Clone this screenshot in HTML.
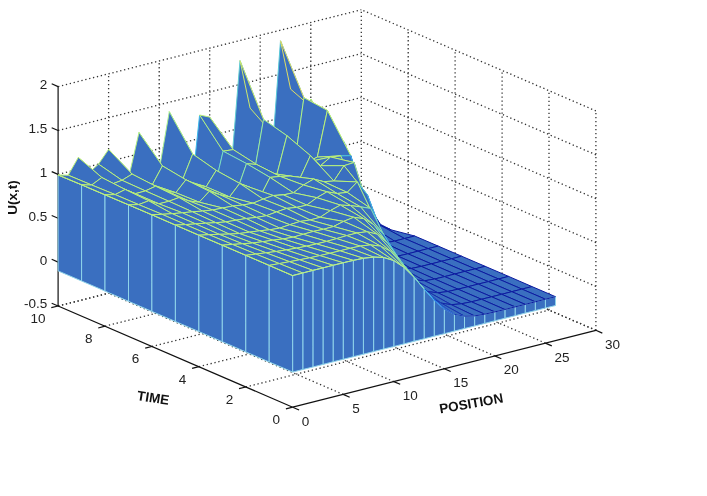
<!DOCTYPE html>
<html><head><meta charset="utf-8"><style>
html,body{margin:0;padding:0;background:#fff;}
svg{display:block;filter:blur(0.35px)}
.g{stroke:#333;stroke-width:1.3;stroke-dasharray:1.3 2.7;fill:none}
.ax line{stroke:#111;stroke-width:1.2}
.surf polygon,.surf line{stroke-width:1;stroke-linejoin:round}
.lab text{font-family:"Liberation Sans",sans-serif;font-size:13.5px;fill:#222}
.big{font-family:"Liberation Sans",sans-serif;font-size:13.5px;font-weight:bold;fill:#111}
</style></head><body>
<svg width="707" height="496" viewBox="0 0 707 496">
<rect width="707" height="496" fill="#fff"/>
<g><line x1="343.2" y1="394.4" x2="108.6" y2="293.2" class="g"/><line x1="393.8" y1="381.6" x2="159.2" y2="280.4" class="g"/><line x1="444.3" y1="368.8" x2="209.7" y2="267.6" class="g"/><line x1="494.8" y1="355.9" x2="260.2" y2="254.7" class="g"/><line x1="545.4" y1="343.1" x2="310.8" y2="241.9" class="g"/><line x1="245.8" y1="387.0" x2="549.0" y2="310.1" class="g"/><line x1="198.9" y1="366.7" x2="502.1" y2="289.8" class="g"/><line x1="151.9" y1="346.5" x2="455.1" y2="269.6" class="g"/><line x1="105.0" y1="326.2" x2="408.2" y2="249.4" class="g"/><line x1="58.1" y1="306.0" x2="361.3" y2="229.1" class="g"/><line x1="595.9" y1="330.3" x2="361.3" y2="229.1" class="g"/><line x1="108.6" y1="293.2" x2="108.6" y2="73.8" class="g"/><line x1="159.2" y1="280.4" x2="159.2" y2="61.0" class="g"/><line x1="209.7" y1="267.6" x2="209.7" y2="48.2" class="g"/><line x1="260.2" y1="254.7" x2="260.2" y2="35.3" class="g"/><line x1="310.8" y1="241.9" x2="310.8" y2="22.5" class="g"/><line x1="361.3" y1="229.1" x2="361.3" y2="9.7" class="g"/><line x1="58.1" y1="306.0" x2="361.3" y2="229.1" class="g"/><line x1="595.9" y1="330.3" x2="361.3" y2="229.1" class="g"/><line x1="58.1" y1="262.1" x2="361.3" y2="185.2" class="g"/><line x1="595.9" y1="286.4" x2="361.3" y2="185.2" class="g"/><line x1="58.1" y1="218.2" x2="361.3" y2="141.4" class="g"/><line x1="595.9" y1="242.6" x2="361.3" y2="141.4" class="g"/><line x1="58.1" y1="174.4" x2="361.3" y2="97.5" class="g"/><line x1="595.9" y1="198.7" x2="361.3" y2="97.5" class="g"/><line x1="58.1" y1="130.5" x2="361.3" y2="53.6" class="g"/><line x1="595.9" y1="154.8" x2="361.3" y2="53.6" class="g"/><line x1="58.1" y1="86.6" x2="361.3" y2="9.7" class="g"/><line x1="595.9" y1="110.9" x2="361.3" y2="9.7" class="g"/><line x1="595.9" y1="330.3" x2="595.9" y2="110.9" class="g"/><line x1="549.0" y1="310.1" x2="549.0" y2="90.7" class="g"/><line x1="502.1" y1="289.8" x2="502.1" y2="70.4" class="g"/><line x1="455.1" y1="269.6" x2="455.1" y2="50.2" class="g"/><line x1="408.2" y1="249.4" x2="408.2" y2="30.0" class="g"/></g>
<g class="ax"><line x1="292.7" y1="407.2" x2="595.9" y2="330.3"/><line x1="292.7" y1="407.2" x2="58.1" y2="306.0"/><line x1="58.1" y1="306.0" x2="58.1" y2="86.6"/><line x1="292.7" y1="407.2" x2="299.1" y2="410.0"/><line x1="343.2" y1="394.4" x2="349.7" y2="397.2"/><line x1="393.8" y1="381.6" x2="400.2" y2="384.3"/><line x1="444.3" y1="368.8" x2="450.7" y2="371.5"/><line x1="494.8" y1="355.9" x2="501.3" y2="358.7"/><line x1="545.4" y1="343.1" x2="551.8" y2="345.9"/><line x1="595.9" y1="330.3" x2="602.3" y2="333.1"/><line x1="292.7" y1="407.2" x2="285.9" y2="408.9"/><line x1="245.8" y1="387.0" x2="239.0" y2="388.7"/><line x1="198.9" y1="366.7" x2="192.1" y2="368.4"/><line x1="151.9" y1="346.5" x2="145.2" y2="348.2"/><line x1="105.0" y1="326.2" x2="98.2" y2="328.0"/><line x1="58.1" y1="306.0" x2="51.3" y2="307.7"/><line x1="58.1" y1="306.0" x2="51.7" y2="303.2"/><line x1="58.1" y1="262.1" x2="51.7" y2="259.3"/><line x1="58.1" y1="218.2" x2="51.7" y2="215.5"/><line x1="58.1" y1="174.4" x2="51.7" y2="171.6"/><line x1="58.1" y1="130.5" x2="51.7" y2="127.7"/><line x1="58.1" y1="86.6" x2="51.7" y2="83.8"/></g>
<g class="surf"><polygon points="334.2,138.0 344.3,142.0 320.9,127.3 310.8,99.0" fill="#3a6fc0" stroke="#b3ef80"/><polygon points="324.1,136.4 334.2,138.0 310.8,99.0 300.7,117.2" fill="#3a6fc0" stroke="#b6f07d"/><polygon points="357.7,188.9 367.8,217.9 344.3,142.0 334.2,138.0" fill="#3a6fc0" stroke="#2c89e9"/><polygon points="314.0,109.4 324.1,136.4 300.7,117.2 290.6,89.1" fill="#3a6fc0" stroke="#c8ec6d"/><polygon points="347.6,172.4 357.7,188.9 334.2,138.0 324.1,136.4" fill="#3a6fc0" stroke="#51c5dd"/><polygon points="283.7,152.5 293.8,168.6 270.3,177.3 260.2,140.7" fill="#3a6fc0" stroke="#aeee87"/><polygon points="381.2,225.8 391.3,229.9 367.8,217.9 357.7,188.9" fill="#3a6fc0" stroke="#1022a4"/><polygon points="293.8,168.6 303.9,97.7 280.5,40.8 270.3,177.3" fill="#3a6fc0" stroke="#58c9d8"/><polygon points="303.9,97.7 314.0,109.4 290.6,89.1 280.5,40.8" fill="#3a6fc0" stroke="#e0dd63"/><polygon points="337.5,141.4 347.6,172.4 324.1,136.4 314.0,109.4" fill="#3a6fc0" stroke="#baf079"/><polygon points="371.0,226.3 381.2,225.8 357.7,188.9 347.6,172.4" fill="#3a6fc0" stroke="#1429a8"/><polygon points="273.6,134.8 283.7,152.5 260.2,140.7 250.1,108.1" fill="#3a6fc0" stroke="#bdf076"/><polygon points="243.3,164.3 253.4,177.5 229.9,184.2 219.8,150.9" fill="#3a6fc0" stroke="#a8ed8f"/><polygon points="404.6,238.5 414.7,236.0 391.3,229.9 381.2,225.8" fill="#3a6fc0" stroke="#0c1aa0"/><polygon points="360.9,197.4 371.0,226.3 347.6,172.4 337.5,141.4" fill="#3a6fc0" stroke="#319fec"/><polygon points="327.4,110.4 337.5,141.4 314.0,109.4 303.9,97.7" fill="#3a6fc0" stroke="#dcdf65"/><polygon points="307.2,162.1 317.3,157.1 293.8,168.6 283.7,152.5" fill="#3a6fc0" stroke="#afef85"/><polygon points="253.4,177.5 263.5,119.4 240.0,60.6 229.9,184.2" fill="#3a6fc0" stroke="#60ced2"/><polygon points="317.3,157.1 327.4,110.4 303.9,97.7 293.8,168.6" fill="#3a6fc0" stroke="#b4f07f"/><polygon points="263.5,119.4 273.6,134.8 250.1,108.1 240.0,60.6" fill="#3a6fc0" stroke="#cde96b"/><polygon points="394.5,241.1 404.6,238.5 381.2,225.8 371.0,226.3" fill="#3a6fc0" stroke="#0c1aa0"/><polygon points="297.1,152.7 307.2,162.1 283.7,152.5 273.6,134.8" fill="#3a6fc0" stroke="#b9f07a"/><polygon points="233.2,149.6 243.3,164.3 219.8,150.9 209.7,117.1" fill="#3a6fc0" stroke="#bbf078"/><polygon points="384.4,242.9 394.5,241.1 371.0,226.3 360.9,197.4" fill="#3a6fc0" stroke="#0d1ca1"/><polygon points="350.8,155.7 360.9,197.4 337.5,141.4 327.4,110.4" fill="#3a6fc0" stroke="#b9f07a"/><polygon points="213.0,194.3 223.1,151.2 199.6,115.0 189.5,210.5" fill="#3a6fc0" stroke="#3cbaec"/><polygon points="286.9,135.7 297.1,152.7 273.6,134.8 263.5,119.4" fill="#3a6fc0" stroke="#c3f070"/><polygon points="202.8,169.0 213.0,194.3 189.5,210.5 179.4,148.0" fill="#3a6fc0" stroke="#b5f07e"/><polygon points="223.1,151.2 233.2,149.6 209.7,117.1 199.6,115.0" fill="#3a6fc0" stroke="#bbf078"/><polygon points="428.1,248.6 438.2,246.1 414.7,236.0 404.6,238.5" fill="#3a6fc0" stroke="#0c1aa0"/><polygon points="276.8,174.7 286.9,135.7 263.5,119.4 253.4,177.5" fill="#3a6fc0" stroke="#9feb9b"/><polygon points="266.7,172.6 276.8,174.7 253.4,177.5 243.3,164.3" fill="#3a6fc0" stroke="#afee86"/><polygon points="340.7,155.9 350.8,155.7 327.4,110.4 317.3,157.1" fill="#3a6fc0" stroke="#baf079"/><polygon points="374.3,235.0 384.4,242.9 360.9,197.4 350.8,155.7" fill="#3a6fc0" stroke="#1a43bb"/><polygon points="330.6,157.0 340.7,155.9 317.3,157.1 307.2,162.1" fill="#3a6fc0" stroke="#bbf078"/><polygon points="418.0,251.2 428.1,248.6 404.6,238.5 394.5,241.1" fill="#3a6fc0" stroke="#0c1aa0"/><polygon points="256.6,164.5 266.7,172.6 243.3,164.3 233.2,149.6" fill="#3a6fc0" stroke="#b8f07b"/><polygon points="320.5,165.7 330.6,157.0 307.2,162.1 297.1,152.7" fill="#3a6fc0" stroke="#b8f07b"/><polygon points="407.9,253.8 418.0,251.2 394.5,241.1 384.4,242.9" fill="#3a6fc0" stroke="#0c1aa0"/><polygon points="192.7,154.0 202.8,169.0 179.4,148.0 169.3,111.7" fill="#3a6fc0" stroke="#bef075"/><polygon points="364.2,204.8 374.3,235.0 350.8,155.7 340.7,155.9" fill="#3a6fc0" stroke="#38b8ef"/><polygon points="246.5,163.6 256.6,164.5 233.2,149.6 223.1,151.2" fill="#3a6fc0" stroke="#baf079"/><polygon points="397.8,256.1 407.9,253.8 384.4,242.9 374.3,235.0" fill="#3a6fc0" stroke="#0c1aa0"/><polygon points="310.4,155.6 320.5,165.7 297.1,152.7 286.9,135.7" fill="#3a6fc0" stroke="#bef075"/><polygon points="182.6,179.7 192.7,154.0 169.3,111.7 159.2,170.0" fill="#3a6fc0" stroke="#a8ed8f"/><polygon points="236.4,192.7 246.5,163.6 223.1,151.2 213.0,194.3" fill="#3a6fc0" stroke="#7dddbd"/><polygon points="172.5,175.1 182.6,179.7 159.2,170.0 149.1,155.7" fill="#3a6fc0" stroke="#b6f07d"/><polygon points="451.5,258.8 461.6,256.2 438.2,246.1 428.1,248.6" fill="#3a6fc0" stroke="#0c1aa0"/><polygon points="300.3,177.6 310.4,155.6 286.9,135.7 276.8,174.7" fill="#3a6fc0" stroke="#b4f07f"/><polygon points="226.3,179.1 236.4,192.7 213.0,194.3 202.8,169.0" fill="#3a6fc0" stroke="#b5f07e"/><polygon points="290.2,176.1 300.3,177.6 276.8,174.7 266.7,172.6" fill="#3a6fc0" stroke="#b6f07d"/><polygon points="354.1,162.5 364.2,204.8 340.7,155.9 330.6,157.0" fill="#3a6fc0" stroke="#bdf076"/><polygon points="387.6,254.8 397.8,256.1 374.3,235.0 364.2,204.8" fill="#3a6fc0" stroke="#1326a7"/><polygon points="441.4,261.3 451.5,258.8 428.1,248.6 418.0,251.2" fill="#3a6fc0" stroke="#0c1aa0"/><polygon points="162.4,165.9 172.5,175.1 149.1,155.7 139.0,132.5" fill="#3a6fc0" stroke="#bcf077"/><polygon points="280.1,176.4 290.2,176.1 266.7,172.6 256.6,164.5" fill="#3a6fc0" stroke="#b7f07c"/><polygon points="431.3,263.9 441.4,261.3 418.0,251.2 407.9,253.8" fill="#3a6fc0" stroke="#0c1aa0"/><polygon points="216.2,170.4 226.3,179.1 202.8,169.0 192.7,154.0" fill="#3a6fc0" stroke="#bbf078"/><polygon points="344.0,165.7 354.1,162.5 330.6,157.0 320.5,165.7" fill="#3a6fc0" stroke="#bdf076"/><polygon points="152.3,184.7 162.4,165.9 139.0,132.5 128.8,177.0" fill="#3a6fc0" stroke="#b1ef82"/><polygon points="142.2,181.3 152.3,184.7 128.8,177.0 118.7,167.8" fill="#3a6fc0" stroke="#b6f07d"/><polygon points="206.1,186.8 216.2,170.4 192.7,154.0 182.6,179.7" fill="#3a6fc0" stroke="#b2ef81"/><polygon points="377.5,236.5 387.6,254.8 364.2,204.8 354.1,162.5" fill="#3a6fc0" stroke="#287ae4"/><polygon points="270.0,177.4 280.1,176.4 256.6,164.5 246.5,163.6" fill="#3a6fc0" stroke="#b8f07b"/><polygon points="421.2,266.4 431.3,263.9 407.9,253.8 397.8,256.1" fill="#3a6fc0" stroke="#0c1aa0"/><polygon points="333.9,181.0 344.0,165.7 320.5,165.7 310.4,155.6" fill="#3a6fc0" stroke="#b6f07d"/><polygon points="259.9,197.2 270.0,177.4 246.5,163.6 236.4,192.7" fill="#3a6fc0" stroke="#97e9a5"/><polygon points="196.0,184.5 206.1,186.8 182.6,179.7 172.5,175.1" fill="#3a6fc0" stroke="#b6f07d"/><polygon points="323.8,181.7 333.9,181.0 310.4,155.6 300.3,177.6" fill="#3a6fc0" stroke="#b7f07c"/><polygon points="475.0,268.9 485.1,266.3 461.6,256.2 451.5,258.8" fill="#3a6fc0" stroke="#0c1aa0"/><polygon points="411.1,268.5 421.2,266.4 397.8,256.1 387.6,254.8" fill="#3a6fc0" stroke="#0c1ba0"/><polygon points="249.8,187.3 259.9,197.2 236.4,192.7 226.3,179.1" fill="#3a6fc0" stroke="#b6f07d"/><polygon points="132.1,174.1 142.2,181.3 118.7,167.8 108.6,149.4" fill="#3a6fc0" stroke="#bbf078"/><polygon points="313.7,179.0 323.8,181.7 300.3,177.6 290.2,176.1" fill="#3a6fc0" stroke="#baf079"/><polygon points="464.9,271.4 475.0,268.9 451.5,258.8 441.4,261.3" fill="#3a6fc0" stroke="#0c1aa0"/><polygon points="185.9,179.8 196.0,184.5 172.5,175.1 162.4,165.9" fill="#3a6fc0" stroke="#baf079"/><polygon points="367.4,194.8 377.5,236.5 354.1,162.5 344.0,165.7" fill="#3a6fc0" stroke="#b0ef84"/><polygon points="401.0,267.6 411.1,268.5 387.6,254.8 377.5,236.5" fill="#3a6fc0" stroke="#1326a7"/><polygon points="122.0,180.3 132.1,174.1 108.6,149.4 98.5,164.1" fill="#3a6fc0" stroke="#b9f07a"/><polygon points="303.5,185.0 313.7,179.0 290.2,176.1 280.1,176.4" fill="#3a6fc0" stroke="#b8f07b"/><polygon points="239.7,183.4 249.8,187.3 226.3,179.1 216.2,170.4" fill="#3a6fc0" stroke="#b9f07a"/><polygon points="454.8,274.0 464.9,271.4 441.4,261.3 431.3,263.9" fill="#3a6fc0" stroke="#0c1aa0"/><polygon points="175.8,192.7 185.9,179.8 162.4,165.9 152.3,184.7" fill="#3a6fc0" stroke="#b4f07f"/><polygon points="111.9,184.1 122.0,180.3 98.5,164.1 88.4,173.3" fill="#3a6fc0" stroke="#b9f07a"/><polygon points="165.7,190.6 175.8,192.7 152.3,184.7 142.2,181.3" fill="#3a6fc0" stroke="#b7f07c"/><polygon points="229.5,196.9 239.7,183.4 216.2,170.4 206.1,186.8" fill="#3a6fc0" stroke="#b3ef81"/><polygon points="293.4,192.8 303.5,185.0 280.1,176.4 270.0,177.4" fill="#3a6fc0" stroke="#b5f07e"/><polygon points="357.3,181.9 367.4,194.8 344.0,165.7 333.9,181.0" fill="#3a6fc0" stroke="#bbf078"/><polygon points="444.7,276.6 454.8,274.0 431.3,263.9 421.2,266.4" fill="#3a6fc0" stroke="#0c1aa0"/><polygon points="390.9,256.9 401.0,267.6 377.5,236.5 367.4,194.8" fill="#3a6fc0" stroke="#205bcd"/><polygon points="101.8,177.5 111.9,184.1 88.4,173.3 78.3,157.4" fill="#3a6fc0" stroke="#bef075"/><polygon points="283.3,194.9 293.4,192.8 270.0,177.4 259.9,197.2" fill="#3a6fc0" stroke="#b6f07d"/><polygon points="219.4,194.5 229.5,196.9 206.1,186.8 196.0,184.5" fill="#3a6fc0" stroke="#b6f07d"/><polygon points="347.2,192.4 357.3,181.9 333.9,181.0 323.8,181.7" fill="#3a6fc0" stroke="#b7f07c"/><polygon points="498.5,279.0 508.6,276.4 485.1,266.3 475.0,268.9" fill="#3a6fc0" stroke="#0c1aa0"/><polygon points="434.6,279.0 444.7,276.6 421.2,266.4 411.1,268.5" fill="#3a6fc0" stroke="#0c1aa0"/><polygon points="155.6,186.2 165.7,190.6 142.2,181.3 132.1,174.1" fill="#3a6fc0" stroke="#baf079"/><polygon points="81.6,184.8 58.1,175.0 58.1,270.9 81.6,281.0" fill="#3a6fc0" stroke="#8fd4ea"/><polygon points="273.2,195.5 283.3,194.9 259.9,197.2 249.8,187.3" fill="#3a6fc0" stroke="#b7f07c"/><polygon points="91.7,185.0 101.8,177.5 78.3,157.4 68.2,175.2" fill="#3a6fc0" stroke="#bbf078"/><polygon points="337.1,193.5 347.2,192.4 323.8,181.7 313.7,179.0" fill="#3a6fc0" stroke="#b8f07b"/><polygon points="488.3,281.6 498.5,279.0 475.0,268.9 464.9,271.4" fill="#3a6fc0" stroke="#0c1aa0"/><polygon points="209.3,191.3 219.4,194.5 196.0,184.5 185.9,179.8" fill="#3a6fc0" stroke="#b9f07a"/><polygon points="424.5,280.8 434.6,279.0 411.1,268.5 401.0,267.6" fill="#3a6fc0" stroke="#0d1ca1"/><polygon points="145.4,190.9 155.6,186.2 132.1,174.1 122.0,180.3" fill="#3a6fc0" stroke="#b9f07a"/><polygon points="81.6,184.8 91.7,185.0 68.2,175.2 58.1,175.0" fill="#3a6fc0" stroke="#bcf077"/><polygon points="380.8,231.1 390.9,256.9 367.4,194.8 357.3,181.9" fill="#3a6fc0" stroke="#41bde8"/><polygon points="263.1,199.1 273.2,195.5 249.8,187.3 239.7,183.4" fill="#3a6fc0" stroke="#b6f07d"/><polygon points="199.2,202.2 209.3,191.3 185.9,179.8 175.8,192.7" fill="#3a6fc0" stroke="#b5f07e"/><polygon points="478.2,284.1 488.3,281.6 464.9,271.4 454.8,274.0" fill="#3a6fc0" stroke="#0c1aa0"/><polygon points="327.0,191.8 337.1,193.5 313.7,179.0 303.5,185.0" fill="#3a6fc0" stroke="#baf079"/><polygon points="135.3,193.7 145.4,190.9 122.0,180.3 111.9,184.1" fill="#3a6fc0" stroke="#b9f07a"/><polygon points="414.4,279.8 424.5,280.8 401.0,267.6 390.9,256.9" fill="#3a6fc0" stroke="#1428a8"/><polygon points="253.0,203.2 263.1,199.1 239.7,183.4 229.5,196.9" fill="#3a6fc0" stroke="#b5f07e"/><polygon points="189.1,201.0 199.2,202.2 175.8,192.7 165.7,190.6" fill="#3a6fc0" stroke="#b7f07c"/><polygon points="316.9,197.7 327.0,191.8 303.5,185.0 293.4,192.8" fill="#3a6fc0" stroke="#b8f07b"/><polygon points="468.1,286.7 478.2,284.1 454.8,274.0 444.7,276.6" fill="#3a6fc0" stroke="#0c1aa0"/><polygon points="125.2,189.5 135.3,193.7 111.9,184.1 101.8,177.5" fill="#3a6fc0" stroke="#bdf076"/><polygon points="370.7,208.4 380.8,231.1 357.3,181.9 347.2,192.4" fill="#3a6fc0" stroke="#b4f07f"/><polygon points="242.9,205.0 253.0,203.2 229.5,196.9 219.4,194.5" fill="#3a6fc0" stroke="#b6f07d"/><polygon points="306.8,205.1 316.9,197.7 293.4,192.8 283.3,194.9" fill="#3a6fc0" stroke="#b6f07d"/><polygon points="521.9,289.1 532.0,286.6 508.6,276.4 498.5,279.0" fill="#3a6fc0" stroke="#0c1aa0"/><polygon points="458.0,289.2 468.1,286.7 444.7,276.6 434.6,279.0" fill="#3a6fc0" stroke="#0c1aa0"/><polygon points="404.2,272.2 414.4,279.8 390.9,256.9 380.8,231.1" fill="#3a6fc0" stroke="#1e50c5"/><polygon points="179.0,197.5 189.1,201.0 165.7,190.6 155.6,186.2" fill="#3a6fc0" stroke="#baf079"/><polygon points="105.0,194.8 81.6,184.8 81.6,281.0 105.0,291.1" fill="#3a6fc0" stroke="#8fd4ea"/><polygon points="115.1,194.6 125.2,189.5 101.8,177.5 91.7,185.0" fill="#3a6fc0" stroke="#bbf078"/><polygon points="360.6,206.9 370.7,208.4 347.2,192.4 337.1,193.5" fill="#3a6fc0" stroke="#b6f07d"/><polygon points="296.7,207.4 306.8,205.1 283.3,194.9 273.2,195.5" fill="#3a6fc0" stroke="#b6f07d"/><polygon points="232.8,206.0 242.9,205.0 219.4,194.5 209.3,191.3" fill="#3a6fc0" stroke="#b7f07c"/><polygon points="511.8,291.7 521.9,289.1 498.5,279.0 488.3,281.6" fill="#3a6fc0" stroke="#0c1aa0"/><polygon points="447.9,291.5 458.0,289.2 434.6,279.0 424.5,280.8" fill="#3a6fc0" stroke="#0c1ba0"/><polygon points="168.9,201.3 179.0,197.5 155.6,186.2 145.4,190.9" fill="#3a6fc0" stroke="#b9f07a"/><polygon points="105.0,194.8 115.1,194.6 91.7,185.0 81.6,184.8" fill="#3a6fc0" stroke="#bdf076"/><polygon points="286.6,208.4 296.7,207.4 273.2,195.5 263.1,199.1" fill="#3a6fc0" stroke="#b7f07c"/><polygon points="350.5,205.6 360.6,206.9 337.1,193.5 327.0,191.8" fill="#3a6fc0" stroke="#b8f07b"/><polygon points="222.7,208.0 232.8,206.0 209.3,191.3 199.2,202.2" fill="#3a6fc0" stroke="#b7f07c"/><polygon points="501.7,294.3 511.8,291.7 488.3,281.6 478.2,284.1" fill="#3a6fc0" stroke="#0c1aa0"/><polygon points="394.1,255.8 404.2,272.2 380.8,231.1 370.7,208.4" fill="#3a6fc0" stroke="#2f97eb"/><polygon points="437.8,292.8 447.9,291.5 424.5,280.8 414.4,279.8" fill="#3a6fc0" stroke="#0e1ea2"/><polygon points="158.8,203.8 168.9,201.3 145.4,190.9 135.3,193.7" fill="#3a6fc0" stroke="#b9f07a"/><polygon points="276.5,211.9 286.6,208.4 263.1,199.1 253.0,203.2" fill="#3a6fc0" stroke="#b6f07d"/><polygon points="212.6,210.0 222.7,208.0 199.2,202.2 189.1,201.0" fill="#3a6fc0" stroke="#b7f07c"/><polygon points="491.6,296.8 501.7,294.3 478.2,284.1 468.1,286.7" fill="#3a6fc0" stroke="#0c1aa0"/><polygon points="340.4,205.1 350.5,205.6 327.0,191.8 316.9,197.7" fill="#3a6fc0" stroke="#baf079"/><polygon points="427.7,291.6 437.8,292.8 414.4,279.8 404.2,272.2" fill="#3a6fc0" stroke="#142baa"/><polygon points="148.7,200.8 158.8,203.8 135.3,193.7 125.2,189.5" fill="#3a6fc0" stroke="#bcf077"/><polygon points="266.4,215.7 276.5,211.9 253.0,203.2 242.9,205.0" fill="#3a6fc0" stroke="#b5f07e"/><polygon points="330.3,210.6 340.4,205.1 316.9,197.7 306.8,205.1" fill="#3a6fc0" stroke="#b8f07b"/><polygon points="545.4,299.2 555.5,296.7 532.0,286.6 521.9,289.1" fill="#3a6fc0" stroke="#0c1aa0"/><polygon points="384.0,234.7 394.1,255.8 370.7,208.4 360.6,206.9" fill="#3a6fc0" stroke="#82e0b9"/><polygon points="481.5,299.3 491.6,296.8 468.1,286.7 458.0,289.2" fill="#3a6fc0" stroke="#0c1aa0"/><polygon points="202.5,211.1 212.6,210.0 189.1,201.0 179.0,197.5" fill="#3a6fc0" stroke="#b8f07b"/><polygon points="128.5,204.8 105.0,194.8 105.0,291.1 128.5,301.3" fill="#3a6fc0" stroke="#8fd4ea"/><polygon points="138.6,204.6 148.7,200.8 125.2,189.5 115.1,194.6" fill="#3a6fc0" stroke="#bbf078"/><polygon points="320.1,217.3 330.3,210.6 306.8,205.1 296.7,207.4" fill="#3a6fc0" stroke="#b6f07d"/><polygon points="256.3,217.4 266.4,215.7 242.9,205.0 232.8,206.0" fill="#3a6fc0" stroke="#b6f07d"/><polygon points="417.6,285.5 427.7,291.6 404.2,272.2 394.1,255.8" fill="#3a6fc0" stroke="#1d4ec4"/><polygon points="535.3,301.8 545.4,299.2 521.9,289.1 511.8,291.7" fill="#3a6fc0" stroke="#0c1aa0"/><polygon points="471.4,301.8 481.5,299.3 458.0,289.2 447.9,291.5" fill="#3a6fc0" stroke="#0c1aa0"/><polygon points="192.4,211.8 202.5,211.1 179.0,197.5 168.9,201.3" fill="#3a6fc0" stroke="#b9f07a"/><polygon points="373.9,224.8 384.0,234.7 360.6,206.9 350.5,205.6" fill="#3a6fc0" stroke="#b2ef82"/><polygon points="128.5,204.8 138.6,204.6 115.1,194.6 105.0,194.8" fill="#3a6fc0" stroke="#bdf076"/><polygon points="310.0,220.0 320.1,217.3 296.7,207.4 286.6,208.4" fill="#3a6fc0" stroke="#b6f07d"/><polygon points="246.1,218.5 256.3,217.4 232.8,206.0 222.7,208.0" fill="#3a6fc0" stroke="#b7f07c"/><polygon points="525.2,304.4 535.3,301.8 511.8,291.7 501.7,294.3" fill="#3a6fc0" stroke="#0c1aa0"/><polygon points="461.3,303.8 471.4,301.8 447.9,291.5 437.8,292.8" fill="#3a6fc0" stroke="#0d1ca1"/><polygon points="182.3,212.8 192.4,211.8 168.9,201.3 158.8,203.8" fill="#3a6fc0" stroke="#baf079"/><polygon points="407.5,273.1 417.6,285.5 394.1,255.8 384.0,234.7" fill="#3a6fc0" stroke="#2c88e9"/><polygon points="299.9,221.5 310.0,220.0 286.6,208.4 276.5,211.9" fill="#3a6fc0" stroke="#b6f07d"/><polygon points="363.8,218.7 373.9,224.8 350.5,205.6 340.4,205.1" fill="#3a6fc0" stroke="#b8f07b"/><polygon points="236.0,220.2 246.1,218.5 222.7,208.0 212.6,210.0" fill="#3a6fc0" stroke="#b7f07c"/><polygon points="515.1,306.9 525.2,304.4 501.7,294.3 491.6,296.8" fill="#3a6fc0" stroke="#0c1aa0"/><polygon points="451.2,304.7 461.3,303.8 437.8,292.8 427.7,291.6" fill="#3a6fc0" stroke="#1021a4"/><polygon points="172.2,213.7 182.3,212.8 158.8,203.8 148.7,200.8" fill="#3a6fc0" stroke="#bbf078"/><polygon points="289.8,224.7 299.9,221.5 276.5,211.9 266.4,215.7" fill="#3a6fc0" stroke="#b6f07d"/><polygon points="504.9,309.5 515.1,306.9 491.6,296.8 481.5,299.3" fill="#3a6fc0" stroke="#0c1aa0"/><polygon points="353.7,217.3 363.8,218.7 340.4,205.1 330.3,210.6" fill="#3a6fc0" stroke="#baf079"/><polygon points="225.9,221.9 236.0,220.2 212.6,210.0 202.5,211.1" fill="#3a6fc0" stroke="#b8f07b"/><polygon points="441.1,303.1 451.2,304.7 427.7,291.6 417.6,285.5" fill="#3a6fc0" stroke="#1630ae"/><polygon points="151.9,214.8 128.5,204.8 128.5,301.3 151.9,311.4" fill="#3a6fc0" stroke="#8fd4ea"/><polygon points="162.0,214.3 172.2,213.7 148.7,200.8 138.6,204.6" fill="#3a6fc0" stroke="#bcf077"/><polygon points="545.4,299.2 555.5,296.7 555.5,305.5 545.4,308.0" fill="#3a6fc0" stroke="#8fd4ea"/><polygon points="397.4,256.9 407.5,273.1 384.0,234.7 373.9,224.8" fill="#3a6fc0" stroke="#4dc3e0"/><polygon points="279.7,228.1 289.8,224.7 266.4,215.7 256.3,217.4" fill="#3a6fc0" stroke="#b6f07d"/><polygon points="343.6,221.4 353.7,217.3 330.3,210.6 320.1,217.3" fill="#3a6fc0" stroke="#b9f07a"/><polygon points="494.8,311.9 504.9,309.5 481.5,299.3 471.4,301.8" fill="#3a6fc0" stroke="#0c1aa0"/><polygon points="215.8,222.7 225.9,221.9 202.5,211.1 192.4,211.8" fill="#3a6fc0" stroke="#b8f07b"/><polygon points="151.9,214.8 162.0,214.3 138.6,204.6 128.5,204.8" fill="#3a6fc0" stroke="#bdf076"/><polygon points="535.3,301.8 545.4,299.2 545.4,308.0 535.3,310.6" fill="#3a6fc0" stroke="#8fd4ea"/><polygon points="431.0,297.6 441.1,303.1 417.6,285.5 407.5,273.1" fill="#3a6fc0" stroke="#1e50c5"/><polygon points="269.6,229.8 279.7,228.1 256.3,217.4 246.1,218.5" fill="#3a6fc0" stroke="#b6f07d"/><polygon points="333.5,226.5 343.6,221.4 320.1,217.3 310.0,220.0" fill="#3a6fc0" stroke="#b8f07b"/><polygon points="484.7,314.2 494.8,311.9 471.4,301.8 461.3,303.8" fill="#3a6fc0" stroke="#0c1ba0"/><polygon points="205.7,223.2 215.8,222.7 192.4,211.8 182.3,212.8" fill="#3a6fc0" stroke="#baf079"/><polygon points="387.3,242.7 397.4,256.9 373.9,224.8 363.8,218.7" fill="#3a6fc0" stroke="#a0eb99"/><polygon points="525.2,304.4 535.3,301.8 535.3,310.6 525.2,313.1" fill="#3a6fc0" stroke="#8fd4ea"/><polygon points="323.4,229.3 333.5,226.5 310.0,220.0 299.9,221.5" fill="#3a6fc0" stroke="#b8f07b"/><polygon points="259.5,230.8 269.6,229.8 246.1,218.5 236.0,220.2" fill="#3a6fc0" stroke="#b7f07c"/><polygon points="474.6,315.9 484.7,314.2 461.3,303.8 451.2,304.7" fill="#3a6fc0" stroke="#0e1ea2"/><polygon points="195.6,223.9 205.7,223.2 182.3,212.8 172.2,213.7" fill="#3a6fc0" stroke="#bbf078"/><polygon points="420.8,287.5 431.0,297.6 407.5,273.1 397.4,256.9" fill="#3a6fc0" stroke="#2a82e8"/><polygon points="515.1,306.9 525.2,304.4 525.2,313.1 515.1,315.7" fill="#3a6fc0" stroke="#8fd4ea"/><polygon points="377.2,234.2 387.3,242.7 363.8,218.7 353.7,217.3" fill="#3a6fc0" stroke="#b6f07d"/><polygon points="313.3,231.4 323.4,229.3 299.9,221.5 289.8,224.7" fill="#3a6fc0" stroke="#b8f07b"/><polygon points="249.4,232.2 259.5,230.8 236.0,220.2 225.9,221.9" fill="#3a6fc0" stroke="#b7f07c"/><polygon points="464.5,316.2 474.6,315.9 451.2,304.7 441.1,303.1" fill="#3a6fc0" stroke="#1225a6"/><polygon points="185.5,224.6 195.6,223.9 172.2,213.7 162.0,214.3" fill="#3a6fc0" stroke="#bbf078"/><polygon points="175.4,225.0 151.9,214.8 151.9,311.4 175.4,321.5" fill="#3a6fc0" stroke="#8fd4ea"/><polygon points="504.9,309.5 515.1,306.9 515.1,315.7 504.9,318.3" fill="#3a6fc0" stroke="#8fd4ea"/><polygon points="303.2,234.3 313.3,231.4 289.8,224.7 279.7,228.1" fill="#3a6fc0" stroke="#b8f07b"/><polygon points="367.1,231.7 377.2,234.2 353.7,217.3 343.6,221.4" fill="#3a6fc0" stroke="#b9f07a"/><polygon points="239.3,233.5 249.4,232.2 225.9,221.9 215.8,222.7" fill="#3a6fc0" stroke="#b8f07b"/><polygon points="410.7,274.1 420.8,287.5 397.4,256.9 387.3,242.7" fill="#3a6fc0" stroke="#37b5ef"/><polygon points="454.4,314.3 464.5,316.2 441.1,303.1 431.0,297.6" fill="#3a6fc0" stroke="#1736b2"/><polygon points="175.4,225.0 185.5,224.6 162.0,214.3 151.9,214.8" fill="#3a6fc0" stroke="#bdf076"/><polygon points="494.8,311.9 504.9,309.5 504.9,318.3 494.8,320.8" fill="#3a6fc0" stroke="#8fd4ea"/><polygon points="293.1,237.2 303.2,234.3 279.7,228.1 269.6,229.8" fill="#3a6fc0" stroke="#b7f07c"/><polygon points="357.0,233.0 367.1,231.7 343.6,221.4 333.5,226.5" fill="#3a6fc0" stroke="#baf079"/><polygon points="229.2,234.1 239.3,233.5 215.8,222.7 205.7,223.2" fill="#3a6fc0" stroke="#b9f07a"/><polygon points="484.7,314.2 494.8,311.9 494.8,320.8 484.7,323.4" fill="#3a6fc0" stroke="#8fd4ea"/><polygon points="444.3,309.1 454.4,314.3 431.0,297.6 420.8,287.5" fill="#3a6fc0" stroke="#1f55c9"/><polygon points="283.0,238.9 293.1,237.2 269.6,229.8 259.5,230.8" fill="#3a6fc0" stroke="#b8f07b"/><polygon points="346.8,235.6 357.0,233.0 333.5,226.5 323.4,229.3" fill="#3a6fc0" stroke="#baf079"/><polygon points="400.6,261.0 410.7,274.1 387.3,242.7 377.2,234.2" fill="#3a6fc0" stroke="#8be5b3"/><polygon points="219.1,234.3 229.2,234.1 205.7,223.2 195.6,223.9" fill="#3a6fc0" stroke="#baf079"/><polygon points="474.6,315.9 484.7,314.2 484.7,323.4 474.6,326.0" fill="#3a6fc0" stroke="#8fd4ea"/><polygon points="272.9,240.2 283.0,238.9 259.5,230.8 249.4,232.2" fill="#3a6fc0" stroke="#b9f07a"/><polygon points="336.7,238.6 346.8,235.6 323.4,229.3 313.3,231.4" fill="#3a6fc0" stroke="#b9f07a"/><polygon points="209.0,234.7 219.1,234.3 195.6,223.9 185.5,224.6" fill="#3a6fc0" stroke="#bbf078"/><polygon points="198.9,235.2 175.4,225.0 175.4,321.5 198.9,331.6" fill="#3a6fc0" stroke="#8fd4ea"/><polygon points="434.2,300.4 444.3,309.1 420.8,287.5 410.7,274.1" fill="#3a6fc0" stroke="#2a82e8"/><polygon points="390.5,251.2 400.6,261.0 377.2,234.2 367.1,231.7" fill="#3a6fc0" stroke="#b4f07f"/><polygon points="464.5,316.2 474.6,315.9 474.6,326.0 464.5,328.5" fill="#3a6fc0" stroke="#8fd4ea"/><polygon points="326.6,241.4 336.7,238.6 313.3,231.4 303.2,234.3" fill="#3a6fc0" stroke="#b9f07a"/><polygon points="262.7,241.7 272.9,240.2 249.4,232.2 239.3,233.5" fill="#3a6fc0" stroke="#b9f07a"/><polygon points="198.9,235.2 209.0,234.7 185.5,224.6 175.4,225.0" fill="#3a6fc0" stroke="#bdf076"/><polygon points="454.4,314.3 464.5,316.2 464.5,328.5 454.4,331.1" fill="#3a6fc0" stroke="#8fd4ea"/><polygon points="380.4,246.1 390.5,251.2 367.1,231.7 357.0,233.0" fill="#3a6fc0" stroke="#b8f07b"/><polygon points="316.5,243.9 326.6,241.4 303.2,234.3 293.1,237.2" fill="#3a6fc0" stroke="#b9f07a"/><polygon points="424.1,289.0 434.2,300.4 410.7,274.1 400.6,261.0" fill="#3a6fc0" stroke="#35aeee"/><polygon points="252.6,243.0 262.7,241.7 239.3,233.5 229.2,234.1" fill="#3a6fc0" stroke="#baf079"/><polygon points="444.3,309.1 454.4,314.3 454.4,331.1 444.3,333.7" fill="#3a6fc0" stroke="#8fd4ea"/><polygon points="306.4,246.2 316.5,243.9 293.1,237.2 283.0,238.9" fill="#3a6fc0" stroke="#b9f07a"/><polygon points="370.3,244.9 380.4,246.1 357.0,233.0 346.8,235.6" fill="#3a6fc0" stroke="#baf079"/><polygon points="242.5,243.8 252.6,243.0 229.2,234.1 219.1,234.3" fill="#3a6fc0" stroke="#bbf078"/><polygon points="434.2,300.4 444.3,309.1 444.3,333.7 434.2,336.2" fill="#3a6fc0" stroke="#8fd4ea"/><polygon points="414.0,277.2 424.1,289.0 400.6,261.0 390.5,251.2" fill="#3a6fc0" stroke="#77dac1"/><polygon points="296.3,248.2 306.4,246.2 283.0,238.9 272.9,240.2" fill="#3a6fc0" stroke="#baf079"/><polygon points="360.2,246.1 370.3,244.9 346.8,235.6 336.7,238.6" fill="#3a6fc0" stroke="#bbf078"/><polygon points="232.4,244.4 242.5,243.8 219.1,234.3 209.0,234.7" fill="#3a6fc0" stroke="#bcf077"/><polygon points="222.3,245.2 198.9,235.2 198.9,331.6 222.3,341.7" fill="#3a6fc0" stroke="#8fd4ea"/><polygon points="424.1,289.0 434.2,300.4 434.2,336.2 424.1,338.8" fill="#3a6fc0" stroke="#8fd4ea"/><polygon points="350.1,248.3 360.2,246.1 336.7,238.6 326.6,241.4" fill="#3a6fc0" stroke="#bbf078"/><polygon points="286.2,249.9 296.3,248.2 272.9,240.2 262.7,241.7" fill="#3a6fc0" stroke="#baf079"/><polygon points="403.9,267.3 414.0,277.2 390.5,251.2 380.4,246.1" fill="#3a6fc0" stroke="#acee8a"/><polygon points="222.3,245.2 232.4,244.4 209.0,234.7 198.9,235.2" fill="#3a6fc0" stroke="#bdf076"/><polygon points="414.0,277.2 424.1,289.0 424.1,338.8 414.0,341.3" fill="#3a6fc0" stroke="#8fd4ea"/><polygon points="340.0,250.8 350.1,248.3 326.6,241.4 316.5,243.9" fill="#3a6fc0" stroke="#bbf078"/><polygon points="276.1,251.5 286.2,249.9 262.7,241.7 252.6,243.0" fill="#3a6fc0" stroke="#bbf078"/><polygon points="403.9,267.3 414.0,277.2 414.0,341.3 403.9,343.9" fill="#3a6fc0" stroke="#8fd4ea"/><polygon points="393.8,260.6 403.9,267.3 380.4,246.1 370.3,244.9" fill="#3a6fc0" stroke="#b7f07c"/><polygon points="329.9,253.3 340.0,250.8 316.5,243.9 306.4,246.2" fill="#3a6fc0" stroke="#bbf078"/><polygon points="266.0,252.8 276.1,251.5 252.6,243.0 242.5,243.8" fill="#3a6fc0" stroke="#bbf078"/><polygon points="393.8,260.6 403.9,267.3 403.9,343.9 393.8,346.5" fill="#3a6fc0" stroke="#8fd4ea"/><polygon points="383.7,257.5 393.8,260.6 370.3,244.9 360.2,246.1" fill="#3a6fc0" stroke="#baf079"/><polygon points="319.8,255.6 329.9,253.3 306.4,246.2 296.3,248.2" fill="#3a6fc0" stroke="#bbf078"/><polygon points="245.8,255.3 222.3,245.2 222.3,341.7 245.8,351.9" fill="#3a6fc0" stroke="#8fd4ea"/><polygon points="255.9,254.1 266.0,252.8 242.5,243.8 232.4,244.4" fill="#3a6fc0" stroke="#bcf077"/><polygon points="383.7,257.5 393.8,260.6 393.8,346.5 383.7,349.0" fill="#3a6fc0" stroke="#8fd4ea"/><polygon points="373.6,257.1 383.7,257.5 360.2,246.1 350.1,248.3" fill="#3a6fc0" stroke="#bcf077"/><polygon points="309.7,257.8 319.8,255.6 296.3,248.2 286.2,249.9" fill="#3a6fc0" stroke="#bbf078"/><polygon points="245.8,255.3 255.9,254.1 232.4,244.4 222.3,245.2" fill="#3a6fc0" stroke="#bdf076"/><polygon points="373.6,257.1 383.7,257.5 383.7,349.0 373.6,351.6" fill="#3a6fc0" stroke="#8fd4ea"/><polygon points="363.4,258.3 373.6,257.1 350.1,248.3 340.0,250.8" fill="#3a6fc0" stroke="#bcf077"/><polygon points="299.6,259.8 309.7,257.8 286.2,249.9 276.1,251.5" fill="#3a6fc0" stroke="#bcf077"/><polygon points="363.4,258.3 373.6,257.1 373.6,351.6 363.4,354.2" fill="#3a6fc0" stroke="#8fd4ea"/><polygon points="353.3,260.4 363.4,258.3 340.0,250.8 329.9,253.3" fill="#3a6fc0" stroke="#bdf076"/><polygon points="289.5,261.7 299.6,259.8 276.1,251.5 266.0,252.8" fill="#3a6fc0" stroke="#bcf077"/><polygon points="353.3,260.4 363.4,258.3 363.4,354.2 353.3,356.7" fill="#3a6fc0" stroke="#8fd4ea"/><polygon points="343.2,262.8 353.3,260.4 329.9,253.3 319.8,255.6" fill="#3a6fc0" stroke="#bdf076"/><polygon points="269.2,265.4 245.8,255.3 245.8,351.9 269.2,362.0" fill="#3a6fc0" stroke="#8fd4ea"/><polygon points="279.3,263.6 289.5,261.7 266.0,252.8 255.9,254.1" fill="#3a6fc0" stroke="#bcf077"/><polygon points="343.2,262.8 353.3,260.4 353.3,356.7 343.2,359.3" fill="#3a6fc0" stroke="#8fd4ea"/><polygon points="333.1,265.3 343.2,262.8 319.8,255.6 309.7,257.8" fill="#3a6fc0" stroke="#bdf076"/><polygon points="269.2,265.4 279.3,263.6 255.9,254.1 245.8,255.3" fill="#3a6fc0" stroke="#bdf076"/><polygon points="333.1,265.3 343.2,262.8 343.2,359.3 333.1,361.8" fill="#3a6fc0" stroke="#8fd4ea"/><polygon points="323.0,267.9 333.1,265.3 309.7,257.8 299.6,259.8" fill="#3a6fc0" stroke="#bdf076"/><polygon points="323.0,267.9 333.1,265.3 333.1,361.8 323.0,364.4" fill="#3a6fc0" stroke="#8fd4ea"/><polygon points="312.9,270.4 323.0,267.9 299.6,259.8 289.5,261.7" fill="#3a6fc0" stroke="#bdf076"/><polygon points="312.9,270.4 323.0,267.9 323.0,364.4 312.9,367.0" fill="#3a6fc0" stroke="#8fd4ea"/><polygon points="292.7,275.6 269.2,265.4 269.2,362.0 292.7,372.1" fill="#3a6fc0" stroke="#8fd4ea"/><polygon points="302.8,273.0 312.9,270.4 289.5,261.7 279.3,263.6" fill="#3a6fc0" stroke="#bdf076"/><polygon points="302.8,273.0 312.9,270.4 312.9,367.0 302.8,369.5" fill="#3a6fc0" stroke="#8fd4ea"/><polygon points="292.7,275.6 302.8,273.0 279.3,263.6 269.2,265.4" fill="#3a6fc0" stroke="#bdf076"/><polygon points="292.7,275.6 302.8,273.0 302.8,369.5 292.7,372.1" fill="#3a6fc0" stroke="#8fd4ea"/><line x1="292.7" y1="275.6" x2="302.8" y2="273.0" stroke="#bdf076"/><line x1="302.8" y1="273.0" x2="312.9" y2="270.4" stroke="#bdf076"/><line x1="312.9" y1="270.4" x2="323.0" y2="267.9" stroke="#bdf076"/><line x1="323.0" y1="267.9" x2="333.1" y2="265.3" stroke="#bdf076"/><line x1="333.1" y1="265.3" x2="343.2" y2="262.8" stroke="#bdf076"/><line x1="343.2" y1="262.8" x2="353.3" y2="260.4" stroke="#bdf076"/><line x1="353.3" y1="260.4" x2="363.4" y2="258.3" stroke="#bdf076"/><line x1="363.4" y1="258.3" x2="373.6" y2="257.1" stroke="#bcf077"/><line x1="373.6" y1="257.1" x2="383.7" y2="257.5" stroke="#bcf077"/><line x1="383.7" y1="257.5" x2="393.8" y2="260.6" stroke="#baf079"/><line x1="393.8" y1="260.6" x2="403.9" y2="267.3" stroke="#b7f07c"/><line x1="403.9" y1="267.3" x2="414.0" y2="277.2" stroke="#acee8a"/><line x1="414.0" y1="277.2" x2="424.1" y2="289.0" stroke="#77dac1"/><line x1="424.1" y1="289.0" x2="434.2" y2="300.4" stroke="#35aeee"/><line x1="434.2" y1="300.4" x2="444.3" y2="309.1" stroke="#2a82e8"/><line x1="444.3" y1="309.1" x2="454.4" y2="314.3" stroke="#1f55c9"/><line x1="454.4" y1="314.3" x2="464.5" y2="316.2" stroke="#1736b2"/><line x1="464.5" y1="316.2" x2="474.6" y2="315.9" stroke="#1225a6"/><line x1="474.6" y1="315.9" x2="484.7" y2="314.2" stroke="#0e1ea2"/><line x1="484.7" y1="314.2" x2="494.8" y2="311.9" stroke="#0c1ba0"/><line x1="494.8" y1="311.9" x2="504.9" y2="309.5" stroke="#0c1aa0"/><line x1="504.9" y1="309.5" x2="515.1" y2="306.9" stroke="#0c1aa0"/><line x1="515.1" y1="306.9" x2="525.2" y2="304.4" stroke="#0c1aa0"/><line x1="525.2" y1="304.4" x2="535.3" y2="301.8" stroke="#0c1aa0"/><line x1="535.3" y1="301.8" x2="545.4" y2="299.2" stroke="#0c1aa0"/><line x1="545.4" y1="299.2" x2="555.5" y2="296.7" stroke="#0c1aa0"/><line x1="292.7" y1="275.6" x2="269.2" y2="265.4" stroke="#bdf076"/><line x1="269.2" y1="265.4" x2="245.8" y2="255.3" stroke="#bdf076"/><line x1="245.8" y1="255.3" x2="222.3" y2="245.2" stroke="#bdf076"/><line x1="222.3" y1="245.2" x2="198.9" y2="235.2" stroke="#bdf076"/><line x1="198.9" y1="235.2" x2="175.4" y2="225.0" stroke="#bdf076"/><line x1="175.4" y1="225.0" x2="151.9" y2="214.8" stroke="#bdf076"/><line x1="151.9" y1="214.8" x2="128.5" y2="204.8" stroke="#bdf076"/><line x1="128.5" y1="204.8" x2="105.0" y2="194.8" stroke="#bdf076"/><line x1="105.0" y1="194.8" x2="81.6" y2="184.8" stroke="#bdf076"/><line x1="81.6" y1="184.8" x2="58.1" y2="175.0" stroke="#bcf077"/></g>
<g class="lab"><text x="47.2" y="308.4" text-anchor="end">-0.5</text><text x="47.2" y="264.5" text-anchor="end">0</text><text x="47.2" y="220.6" text-anchor="end">0.5</text><text x="47.2" y="176.8" text-anchor="end">1</text><text x="47.2" y="132.9" text-anchor="end">1.5</text><text x="47.2" y="89.0" text-anchor="end">2</text><text x="280.1" y="424.0" text-anchor="end">0</text><text x="233.2" y="403.8" text-anchor="end">2</text><text x="186.3" y="383.5" text-anchor="end">4</text><text x="139.3" y="363.3" text-anchor="end">6</text><text x="92.4" y="343.0" text-anchor="end">8</text><text x="45.5" y="322.8" text-anchor="end">10</text><text x="301.7" y="425.7" text-anchor="start">0</text><text x="352.2" y="412.9" text-anchor="start">5</text><text x="402.8" y="400.1" text-anchor="start">10</text><text x="453.3" y="387.3" text-anchor="start">15</text><text x="503.8" y="374.4" text-anchor="start">20</text><text x="554.4" y="361.6" text-anchor="start">25</text><text x="604.9" y="348.8" text-anchor="start">30</text></g>
<text class="big" transform="translate(17,197.5) rotate(-90)" text-anchor="middle">U(x,t)</text>
<text class="big" transform="translate(152.5,402.5) rotate(9)" text-anchor="middle">TIME</text>
<text class="big" transform="translate(472,408) rotate(-10)" text-anchor="middle">POSITION</text>
</svg></body></html>
